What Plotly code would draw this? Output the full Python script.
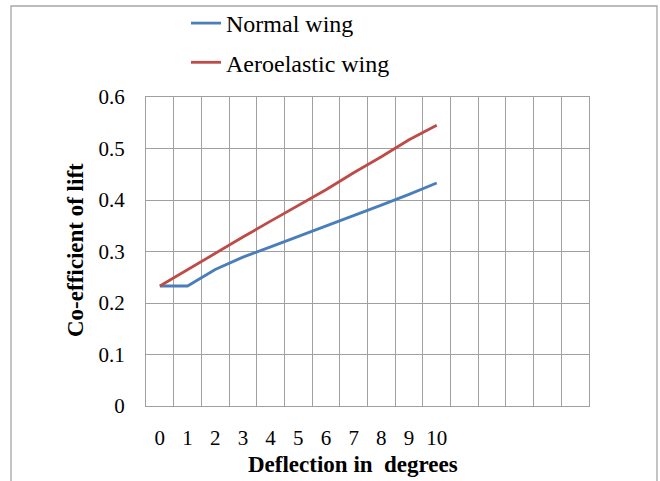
import plotly.graph_objects as go

deflection = [0, 1, 2, 3, 4, 5, 6, 7, 8, 9, 10]
normal_wing = [0.233, 0.233, 0.265, 0.289, 0.309, 0.329, 0.350, 0.370, 0.390, 0.411, 0.433]
aeroelastic_wing = [0.233, 0.265, 0.297, 0.328, 0.359, 0.390, 0.420, 0.453, 0.484, 0.517, 0.545]
y_ticks = [0, 0.1, 0.2, 0.3, 0.4, 0.5, 0.6]
y_tick_labels = ["0", "0.1", "0.2", "0.3", "0.4", "0.5", "0.6"]
x_tick_labels = [str(d) for d in deflection]
n_categories = 16

W, H = 660, 481
L, R, T, B = 146, 589, 97, 406
pw, ph = R - L, B - T


def px(x):
    return (x - L) / pw


def py(y):
    return (B - y) / ph


SERIF = "Times New Roman, Liberation Serif, serif"
GRID = "#a0a0a0"

fig = go.Figure()
fig.add_trace(go.Scatter(x=deflection, y=normal_wing, mode="lines", name="Normal wing",
                         line=dict(color="#4a7ebb", width=2.8), legendgroup="a"))
fig.add_trace(go.Scatter(x=deflection, y=aeroelastic_wing, mode="lines", name="Aeroelastic wing",
                         line=dict(color="#be4b48", width=2.8), legendgroup="b"))

fig.update_layout(
    width=W, height=H,
    margin=dict(l=L, r=W - R, t=T, b=H - B, autoexpand=False),
    paper_bgcolor="white", plot_bgcolor="white",
    font=dict(family=SERIF, size=21, color="#000000"),
    showlegend=True,
    legend=dict(xref="container", yref="container", x=186 / W, y=1 - 1 / H,
                xanchor="left", yanchor="top",
                font=dict(family=SERIF, size=24, color="#000000"), traceorder="grouped",
                tracegroupgap=5, bgcolor="rgba(0,0,0,0)"),
    xaxis=dict(range=[-0.5, n_categories - 0.5], tickmode="array", tickvals=deflection,
               ticktext=x_tick_labels, showgrid=False, zeroline=False,
               ticks="outside", ticklen=13, tickcolor="rgba(0,0,0,0)",
               minor=dict(tick0=-0.5, dtick=1, showgrid=True, gridcolor=GRID, gridwidth=1, ticks=""),
               showline=True, linecolor=GRID, linewidth=1, mirror=True,
               tickfont=dict(family=SERIF, size=21, color="#000000")),
    yaxis=dict(range=[0, 0.6], tickmode="array", tickvals=y_ticks, ticktext=y_tick_labels,
               showgrid=True, gridcolor=GRID, gridwidth=1, zeroline=False,
               ticks="outside", ticklen=16, tickcolor="rgba(0,0,0,0)",
               showline=True, linecolor=GRID, linewidth=1, mirror=True,
               tickfont=dict(family=SERIF, size=21, color="#000000")),
    annotations=[
        dict(text="<b>Deflection in  degrees</b>", xref="paper", yref="paper",
             x=px(353), y=py(464), xanchor="center", yanchor="middle", showarrow=False,
             font=dict(family=SERIF, size=23)),
        dict(text="<b>Co-efficient of lift</b>", xref="paper", yref="paper",
             x=px(75), y=py(250), xanchor="center", yanchor="middle", showarrow=False,
             textangle=-90, font=dict(family=SERIF, size=23)),
    ],
    shapes=[
        dict(type="rect", xref="paper", yref="paper", x0=px(11), x1=px(657), y0=py(490), y1=py(6),
             line=dict(color="#a6a6a6", width=1.3), layer="below"),
    ],
)

fig.write_html("out.html")
